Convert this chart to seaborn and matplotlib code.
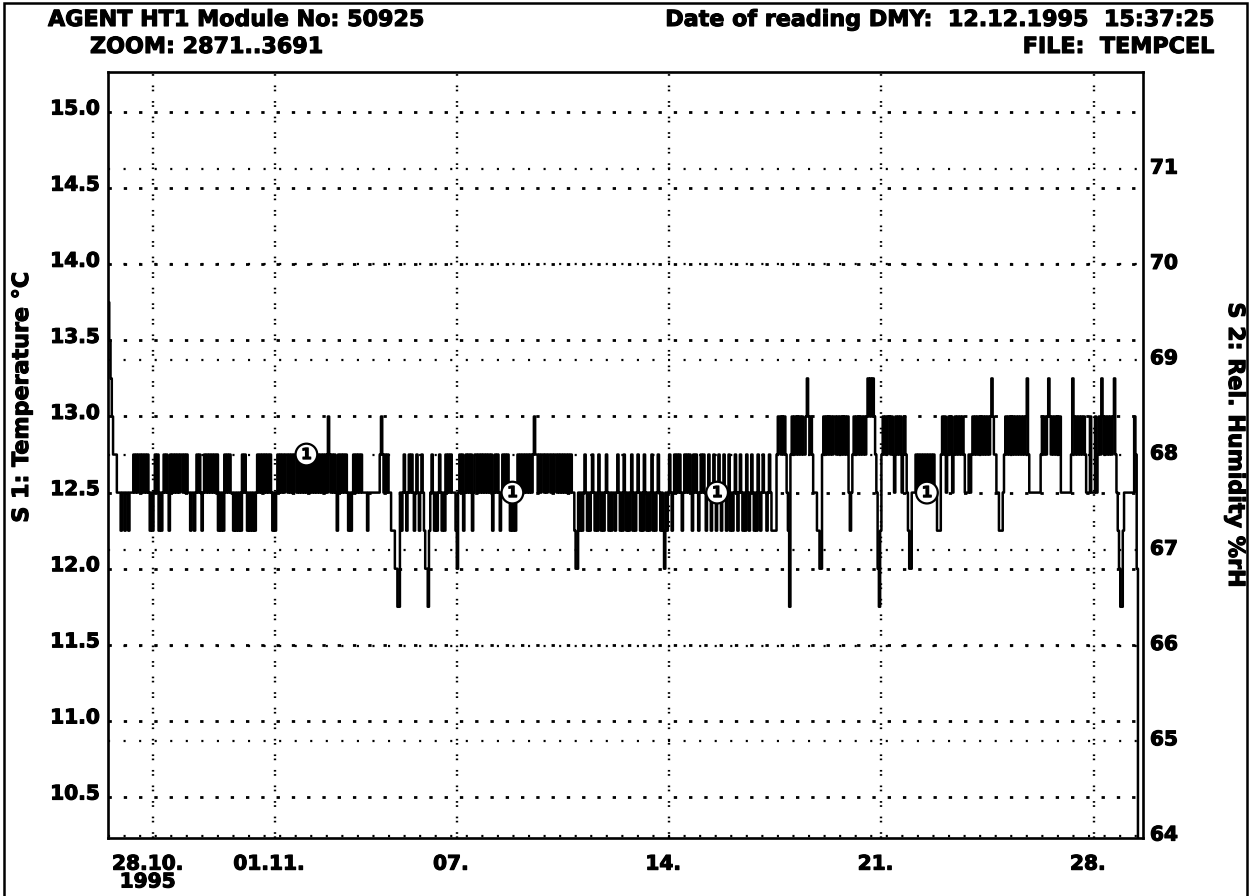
import numpy as np
import pandas as pd
import matplotlib
matplotlib.use("Agg")
import matplotlib.pyplot as plt
import matplotlib.dates as mdates
import matplotlib.transforms as mtransforms
import matplotlib.patheffects as pe
from matplotlib.patches import Rectangle
from matplotlib.text import Text
import seaborn as sns

# ---------------- data ----------------
header_left = "AGENT HT1 Module No: 50925"
header_zoom = "ZOOM: 2871..3691"
header_date = "Date of reading DMY:  12.12.1995  15:37:25"
header_file = "FILE:  TEMPCEL"
y1_label = "S 1: Temperature °C"
y2_label = "S 2: Rel. Humidity %rH"

start_time = "1995-10-26 12:00"          # first hourly reading
# temperature levels (°C) used by the logger (0.25 °C resolution); '9' = below scale
code_levels = {"0": 11.75, "1": 12.0, "2": 12.25, "3": 12.5, "4": 12.75,
               "5": 13.0, "6": 13.25, "7": 13.5, "8": 13.75, "9": 9.0}
# hourly readings of sensor 1 (40 readings per chunk)
temp_chunks = [
    "8765444" "3332332332333" "434344343434" "32323" "434",
    "2323" "4343" "2" "43434343443434" "3323323" "4343234343",
    "4343434" "23232" "434343" "32323232" "4343" "2323232343",
    "434343434" "32323" "4343434434" "3434434343" "434343",
    "43434343434343" "5" "434343" "2" "43434343" "232" "3434343",
    "43" "3332333333333" "45" "434343" "32221100" "323432343",
    "432343234" "32110" "23" "43232343232" "434343" "3321" "343",
    "423" "43434234" "43434343434342" "3434323" "43434323",
    "232343" "43434343434" "5" "4434344343" "4434344343" "43",
    "4343434" "33211" "3232343232" "3432324323" "23432323",
    "3234323243" "2323423234" "3232432323" "4232343232",
    "1323432343" "4343234343" "4324343234" "3432343234",
    "3234323432" "3423234323" "4323243234" "3232432343",
    "32343" "2222" "455" "45454" "320" "4" "5454545454" "456" "545433",
    "32211" "4545454545" "5454545454" "5" "323" "45454545454",
    "56565654" "310" "2" "4545455454" "354545345" "43211" "3334",
    "34343434343" "4343" "322" "2" "4545" "3" "4545" "3" "454545454" "33",
    "3434" "5454545454545" "45" "6" "54" "433" "222" "3" "45454545454",
    "5454545" "6" "4" "333333333" "454545" "6" "54545" "4545" "333333",
    "33" "4" "6" "5454545454" "333533353" "454" "6" "54545454" "5" "6" "432",
    "100" "2" "33333333" "5" "4" "1" "99999",
]
temp_ticks = [10.5, 11.0, 11.5, 12.0, 12.5, 13.0, 13.5, 14.0, 14.5, 15.0]
hum_ticks = [64, 65, 66, 67, 68, 69, 70, 71]
date_ticks = ["1995-10-28", "1995-11-01", "1995-11-07", "1995-11-14",
              "1995-11-21", "1995-11-28"]
date_labels = ["28.10.\n1995", "01.11.", "07.", "14.", "21.", "28."]
marker_idx = [157, 320, 482, 648]
marker_vals = [12.75, 12.5, 12.5, 12.5]

# ---------------- build frame ----------------
temps = [code_levels[c] for chunk in temp_chunks for c in chunk]
times = pd.date_range(start_time, periods=len(temps), freq="h")
df = pd.DataFrame({"time": times, "temp": temps})

sns.set_theme(style="white")
plt.rcParams["font.family"] = ["DejaVu Sans"]
plt.rcParams["font.weight"] = "bold"
plt.rcParams["text.color"] = "black"
plt.rcParams["xtick.color"] = "black"
plt.rcParams["ytick.color"] = "black"
plt.rcParams["axes.labelcolor"] = "black"
plt.rcParams["lines.scale_dashes"] = False

W, H = 1255, 896
fig = plt.figure(figsize=(W / 100, H / 100), dpi=100)
fig.patch.set_facecolor("white")
ax = fig.add_axes([108 / W, 1 - 838 / H, (1143 - 108) / W, (838 - 72) / H])
ax2 = ax.twinx()
ax.set_zorder(ax2.get_zorder() + 1)
ax.patch.set_visible(False)
ax2.patch.set_facecolor("white")

sns.lineplot(data=df, x="time", y="temp", ax=ax, color="black",
             linewidth=1.8, drawstyle="steps-post", estimator=None, legend=False)

ax.set_xlim(times[0], times[-1])
ax.set_ylim(10.231, 15.263)
ax2.set_ylim(63.98, 72.02)
ax.set_xlabel("")
ax.set_ylabel("")
ax2.set_ylabel("")

ax.set_yticks(temp_ticks)
ax.set_yticklabels([f"{v:.1f}" for v in temp_ticks])
ax2.set_yticks(hum_ticks)
ax2.set_yticklabels([str(v) for v in hum_ticks])
ax.set_xticks(mdates.date2num(pd.to_datetime(date_ticks)))
ax.set_xticklabels(date_labels, linespacing=0.92)

# grids
ax.yaxis.grid(True, color="black", linewidth=2.0, linestyle=(0, (2.4, 8.6)))
ax.xaxis.grid(True, color="black", linewidth=1.7, linestyle=(0, (1.2, 1.8, 1.2, 7.0)))
ax2.yaxis.grid(True, color="black", linewidth=1.6, linestyle=(0, (1.5, 9.7)))
ax2.xaxis.grid(False)
ax.set_axisbelow(True)

ax.tick_params(axis="both", length=0, labelsize=14.5)
ax.tick_params(axis="y", pad=6)
ax.tick_params(axis="x", pad=12)
ax2.tick_params(axis="y", length=0, labelsize=14.5, pad=5)

for sp in ax.spines.values():
    sp.set_visible(True)
    sp.set_color("black")
    sp.set_linewidth(1.9)
for sp in ax2.spines.values():
    sp.set_visible(False)

# label offsets
off_l = mtransforms.ScaledTranslation(0, 5 / 100, fig.dpi_scale_trans)
for lab in ax.get_yticklabels():
    lab.set_transform(lab.get_transform() + off_l)
off_r = mtransforms.ScaledTranslation(0, 3 / 100, fig.dpi_scale_trans)
for lab in ax2.get_yticklabels():
    lab.set_transform(lab.get_transform() + off_r)
off_x = mtransforms.ScaledTranslation(-6 / 100, 0, fig.dpi_scale_trans)
for lab in ax.get_xticklabels():
    lab.set_transform(lab.get_transform() + off_x)

# series markers
for idx, val in zip(marker_idx, marker_vals):
    ax.text(mdates.date2num(times[idx]), val, "1", ha="center", va="center",
            fontsize=11, fontweight="bold", zorder=6,
            bbox=dict(boxstyle="circle,pad=0.22", fc="white", ec="black", lw=1.6))

# header texts
fs = 16
fig.text(48 / W, 1 - 20 / H, header_left, ha="left", va="center", fontsize=fs, fontweight="bold")
fig.text(90 / W, 1 - 47 / H, header_zoom, ha="left", va="center", fontsize=fs, fontweight="bold")
fig.text(1214 / W, 1 - 20 / H, header_date, ha="right", va="center", fontsize=fs, fontweight="bold")
fig.text(1214 / W, 1 - 47 / H, header_file, ha="right", va="center", fontsize=fs, fontweight="bold")
fig.text(22 / W, 1 - 397 / H, y1_label, rotation=90, ha="center", va="center",
         fontsize=fs, fontweight="bold")
fig.text(1235 / W, 1 - 445 / H, y2_label, rotation=270, ha="center", va="center",
         fontsize=fs, fontweight="bold")

# outer frame
fig.patches.append(Rectangle((4 / W, -0.01), (1247 - 4) / W, 1.01 - 3 / H,
                             transform=fig.transFigure, fill=False,
                             ec="black", lw=1.8))

# heavier glyphs like the original printout
for t in fig.findobj(Text):
    t.set_path_effects([pe.withStroke(linewidth=0.8, foreground="black")])

fig.savefig("out.png", dpi=100, facecolor="white")
